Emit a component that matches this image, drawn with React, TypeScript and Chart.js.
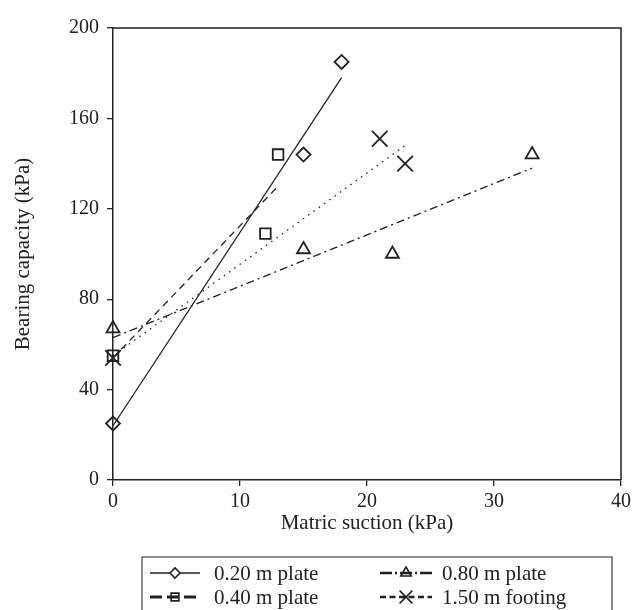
import React, { useEffect, useRef } from 'react';
import { Chart, registerables } from 'chart.js';
import { drawPoint } from 'chart.js/helpers';

Chart.register(...registerables);

// ---- data ----
const seriesLabels = ['0.20 m plate', '0.40 m plate', '0.80 m plate', '1.50 m footing'];

const suction020 = [0, 15, 18];
const capacity020 = [25, 144, 185];
const suction040 = [0, 12, 13];
const capacity040 = [55, 109, 144];
const suction080 = [0, 15, 22, 33];
const capacity080 = [67, 102, 100, 144];
const suction150 = [0, 21, 23];
const capacity150 = [54, 151, 140];

// trend line end points
const trendSuction020 = [0, 18];
const trendCapacity020 = [24, 178];
const trendSuction040 = [0, 13];
const trendCapacity040 = [54, 130];
const trendSuction080 = [0, 33];
const trendCapacity080 = [63, 138];
const trendSuction150 = [0, 23];
const trendCapacity150 = [55, 148];

const xTickValues = [0, 10, 20, 30, 40];
const yTickValues = [0, 40, 80, 120, 160, 200];

const xTitle = 'Matric suction (kPa)';
const yTitle = 'Bearing capacity (kPa)';

const INK = '#222222';
const FONT = "'Liberation Serif', 'Times New Roman', serif";

const pts = (xs: number[], ys: number[]) => xs.map((x, i) => ({ x, y: ys[i] }));

const markerStyles = [
  { pointStyle: 'rectRot', radius: 7 },
  { pointStyle: 'rect', radius: 7.5 },
  { pointStyle: 'triangle', radius: 7.5 },
  { pointStyle: 'crossRot', radius: 11 },
];
const trendDashes = [[], [7, 5], [8, 4, 2, 4], [1.5, 5]];

const legendSpecs = [
  { dash: [], width: 1.3, marker: { pointStyle: 'rectRot', radius: 5 }, fill: '#ffffff' },
  { dash: [12, 5], width: 3, marker: { pointStyle: 'rect', radius: 5.5 }, fill: 'rgba(0,0,0,0)' },
  { dash: [12, 3, 2, 3], width: 2.5, marker: { pointStyle: 'triangle', radius: 6 }, fill: 'rgba(0,0,0,0)' },
  { dash: [6, 3.5], width: 2.5, marker: { pointStyle: 'crossRot', radius: 9 }, fill: 'rgba(0,0,0,0)' },
];

const framePlugin = {
  id: 'frame',
  afterDraw(chart: any) {
    const { ctx, chartArea } = chart;
    ctx.save();
    ctx.strokeStyle = INK;
    ctx.lineWidth = 1.5;
    ctx.setLineDash([]);
    ctx.beginPath();
    ctx.moveTo(chartArea.left, chartArea.top);
    ctx.lineTo(chartArea.right, chartArea.top);
    ctx.lineTo(chartArea.right, chartArea.bottom);
    ctx.stroke();
    ctx.restore();
  },
};

const legendPlugin = {
  id: 'boxLegend',
  afterDraw(chart: any) {
    const { ctx } = chart;
    const box = { left: 134, top: 549, right: 604, bottom: 610 };
    const rows = [565, 589];
    const cols = [
      { x0: 142, x1: 192, text: 206 },
      { x0: 372, x1: 424, text: 434 },
    ];
    ctx.save();
    ctx.strokeStyle = '#444';
    ctx.lineWidth = 1.2;
    ctx.setLineDash([]);
    ctx.strokeRect(box.left, box.top, box.right - box.left, box.bottom - box.top);

    seriesLabels.forEach((label, i) => {
      const col = cols[Math.floor(i / 2)];
      const y = rows[i % 2];
      const spec = legendSpecs[i];
      ctx.save();
      ctx.strokeStyle = INK;
      ctx.lineWidth = spec.width;
      ctx.setLineDash(spec.dash);
      ctx.beginPath();
      ctx.moveTo(col.x0, y);
      ctx.lineTo(col.x1, y);
      ctx.stroke();
      ctx.setLineDash([]);
      ctx.fillStyle = spec.fill;
      ctx.strokeStyle = INK;
      ctx.lineWidth = 1.6;
      drawPoint(ctx, { pointStyle: spec.marker.pointStyle, radius: spec.marker.radius, rotation: 0, borderWidth: 1.6 } as any, (col.x0 + col.x1) / 2, y);
      ctx.restore();

      ctx.fillStyle = INK;
      ctx.font = `21px ${FONT}`;
      ctx.textAlign = 'left';
      ctx.textBaseline = 'middle';
      ctx.fillText(label, col.text, y + 1);
    });
    ctx.restore();
  },
};

export default function App() {
  const ref = useRef<HTMLCanvasElement | null>(null);

  useEffect(() => {
    if (!ref.current) return;
    const pointSets = [
      pts(suction020, capacity020),
      pts(suction040, capacity040),
      pts(suction080, capacity080),
      pts(suction150, capacity150),
    ];
    const trendSets = [
      pts(trendSuction020, trendCapacity020),
      pts(trendSuction040, trendCapacity040),
      pts(trendSuction080, trendCapacity080),
      pts(trendSuction150, trendCapacity150),
    ];
    const datasets: any[] = [];
    trendSets.forEach((d, i) => {
      datasets.push({
        label: seriesLabels[i] + ' trend',
        data: d,
        showLine: true,
        pointRadius: 0,
        borderColor: INK,
        borderWidth: 1.3,
        borderDash: trendDashes[i],
        clip: false,
      });
    });
    pointSets.forEach((d, i) => {
      datasets.push({
        label: seriesLabels[i],
        data: d,
        showLine: false,
        pointStyle: markerStyles[i].pointStyle,
        pointRadius: markerStyles[i].radius,
        pointBorderWidth: 1.8,
        borderColor: INK,
        pointBorderColor: INK,
        backgroundColor: 'rgba(0,0,0,0)',
        pointBackgroundColor: 'rgba(0,0,0,0)',
        clip: false,
      });
    });

    const chart = new Chart(ref.current, {
      type: 'scatter',
      data: { datasets },
      options: {
        responsive: false,
        animation: false,
        layout: { padding: { top: 9, right: 10, left: 0, bottom: 0 } },
        plugins: { legend: { display: false }, tooltip: { enabled: false } },
        scales: {
          x: {
            type: 'linear',
            min: 0,
            max: 40,
            afterBuildTicks: (s: any) => {
              s.ticks = xTickValues.map((v) => ({ value: v }));
            },
            afterFit: (s: any) => {
              s.height = 130;
            },
            grid: { drawOnChartArea: false, drawTicks: true, tickLength: 6, color: INK, lineWidth: 1.3 },
            border: { display: true, color: INK, width: 1.5 },
            ticks: { font: { family: FONT, size: 20 }, color: INK, padding: 4, maxRotation: 0 },
            title: {
              display: true,
              text: xTitle,
              color: INK,
              font: { family: FONT, size: 21 },
              padding: { top: 0, bottom: 74 },
            },
          },
          y: {
            type: 'linear',
            min: 0,
            max: 200,
            afterBuildTicks: (s: any) => {
              s.ticks = yTickValues.map((v) => ({ value: v }));
            },
            afterFit: (s: any) => {
              s.width = 105;
            },
            grid: { drawOnChartArea: false, drawTicks: true, tickLength: 6, color: INK, lineWidth: 1.3 },
            border: { display: true, color: INK, width: 1.5 },
            ticks: { font: { family: FONT, size: 20 }, color: INK, padding: 8 },
            title: {
              display: true,
              text: yTitle,
              color: INK,
              font: { family: FONT, size: 21 },
              padding: { top: 3, bottom: 0 },
            },
          },
        },
      } as any,
      plugins: [framePlugin, legendPlugin],
    });
    return () => chart.destroy();
  }, []);

  return (
    <div style={{ width: 627, height: 602 }}>
      <canvas ref={ref} width={627} height={602} style={{ display: 'block', width: 627, height: 602 }} />
    </div>
  );
}
